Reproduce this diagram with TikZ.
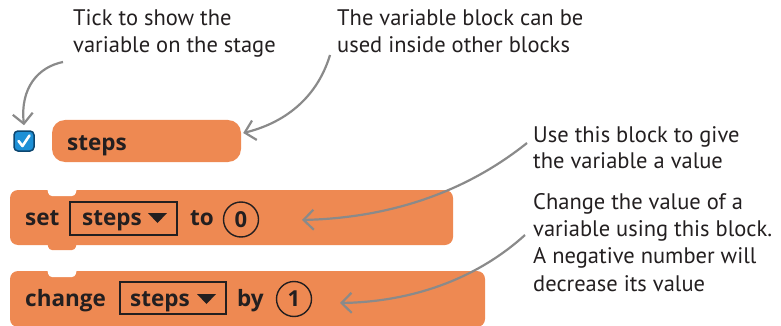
\documentclass[tikz,border=0pt]{standalone}
\usepackage{fontspec}
\setmainfont{PT Sans}
\newfontfamily\blockfont{Open Sans}
\usetikzlibrary{arrows.meta}
\definecolor{blockorange}{RGB}{238,137,82}
\definecolor{txt}{RGB}{35,31,32}
\definecolor{arrowgray}{RGB}{138,138,138}
\definecolor{cbblue}{RGB}{30,144,214}
\definecolor{cbedge}{RGB}{12,70,112}
\tikzset{
  lbl/.style={anchor=north west, inner sep=0pt, align=left, font=\fontsize{22.5}{26.5}\selectfont, text=txt},
  blk/.style={anchor=base west, inner sep=0pt, font=\blockfont\bfseries\fontsize{22.5}{22.5}\selectfont, text=txt},
  blockbody/.style={fill=blockorange, rounded corners=8pt, inner sep=0pt},
  varbox/.style={draw=txt, line width=1.4pt, inner sep=0pt},
  numcirc/.style={draw=txt, line width=1.4pt, circle, minimum size=35pt, inner sep=0pt, font=\blockfont\bfseries\fontsize{22}{22}\selectfont, text=txt},
  conn/.style={draw=arrowgray, line width=2.2pt, -{Straight Barb[length=10pt,width=20pt]}},
}
\begin{document}
\begin{tikzpicture}[x=1pt,y=-1pt]
\useasboundingbox (0,0) rectangle (781,326);
% labels
\node[lbl] (tick) at (73,9.5) {Tick to show the\\variable on the stage};
\node[lbl] (varblk) at (337,9.5) {The variable block can be\\used inside other blocks};
\node[lbl] (useblk) at (533,126) {Use this block to give\\the variable a value};
\node[lbl, font=\fontsize{22.5}{27.3}\selectfont] (chgblk) at (533,193) {Change the value of a\\variable using this block.\\A negative number will\\decrease its value};
% checkbox
\node[draw=cbedge, fill=cbblue, line width=1.5pt, rounded corners=4pt, minimum size=20pt, inner sep=0pt] (cb) at (24,141) {};
\draw[white, line width=2.6pt, line cap=round, line join=round] (18.5,141) -- (22.5,146) -- (29.5,135.5);
% reporter block
\node[fill=blockorange, rounded corners=13pt, minimum width=189pt, minimum height=42pt, inner sep=0pt] (rep) at (146.5,141) {};
\node[blk] (reptxt) at (67,150) {steps};
% set block
\node[blockbody, minimum width=443pt, minimum height=55pt] (setb) at (231.5,217.5) {};
\fill[white, rounded corners=3pt] (46,184) -- (49,196) -- (75,196) -- (78,184) -- cycle;
\fill[blockorange, rounded corners=3pt] (46,238) -- (49,250) -- (75,250) -- (78,238) -- cycle;
\node[blk] (settxt) at (25,225) {set};
\node[varbox, minimum width=107pt, minimum height=33pt] (setvar) at (123.5,218.5) {};
\node[blk] (setvartxt) at (82,225) {steps};
\fill[txt] (148,213) -- (167,213) -- (157.5,223) -- cycle;
\node[blk] (totxt) at (190,225) {to};
\node[numcirc] (zero) at (241,219.5) {0};
% change block
\node[blockbody, minimum width=475pt, minimum height=56pt] (chgb) at (247.5,299) {};
\fill[white, rounded corners=3pt] (46,265) -- (49,277) -- (75,277) -- (78,265) -- cycle;
\node[blk] (chgtxt) at (25,306) {change};
\node[varbox, minimum width=106pt, minimum height=32pt] (chgvar) at (173,298) {};
\node[blk] (chgvartxt) at (130,306) {steps};
\fill[txt] (197,294) -- (216,294) -- (206.5,304) -- cycle;
\node[blk] (bytxt) at (237,306) {by};
\node[numcirc] (one) at (294,299) {1};
% connectors
\coordinate (a1s) at (63,62);
\coordinate (a2s) at (330,55);
\coordinate (a3s) at (527,143);
\coordinate (a3e) at (302,220);
\coordinate (a4s) at (525,235);
\coordinate (a4e) at (340,303);
\draw[conn] (a1s) .. controls (38,67) and (20,88) .. ([yshift=5pt]cb.north);
\draw[conn] (a2s) .. controls (318,95) and (288,122) .. ([shift={(2pt,8pt)}]rep.east);
\draw[conn] (a3s) .. controls (462,195) and (385,218) .. (a3e);
\draw[conn] (a4s) .. controls (472,283) and (405,302) .. (a4e);
\end{tikzpicture}
\end{document}
